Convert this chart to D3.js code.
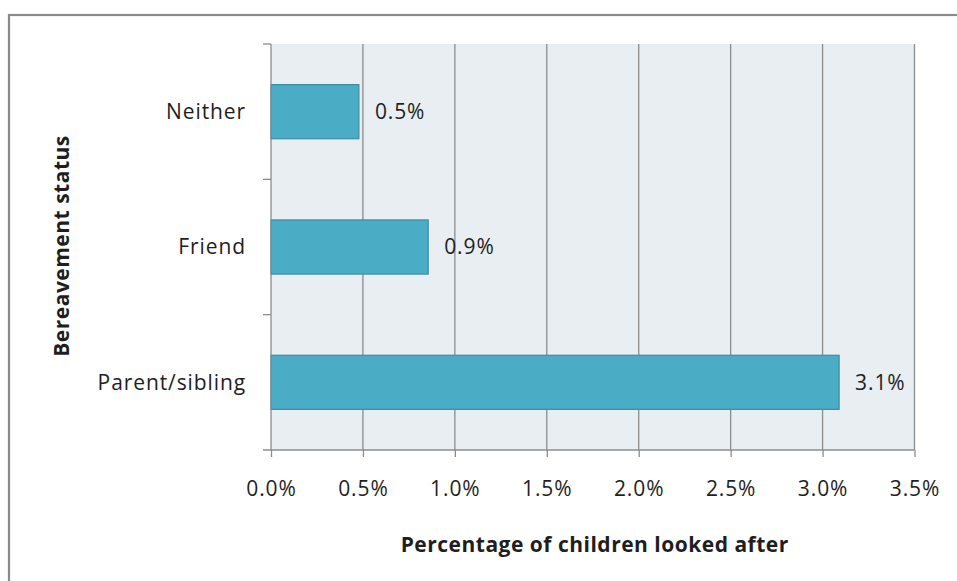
<!DOCTYPE html>
<html>
<head>
<meta charset="utf-8">
<script src="https://cdn.jsdelivr.net/npm/d3@7"></script>
<style>
  html, body { margin: 0; padding: 0; background: #fff; }
  svg { display: block; }
  text { font-family: "Open Sans", sans-serif; fill: #1e1e1e; }
</style>
</head>
<body>
<svg id="chart" width="957" height="581"></svg>
<script>
// Bereavement status categories, top to bottom
const categories = ["Neither", "Friend", "Parent/sibling"];
// Share of children looked after (fraction)
const values = [0.00478, 0.00855, 0.0309];
// Axis ticks
const xTicks = [0, 0.005, 0.01, 0.015, 0.02, 0.025, 0.03, 0.035];
const xTitle = "Percentage of children looked after";
const yTitle = "Bereavement status";

const svg = d3.select("#chart");
const plot = { left: 271, right: 914.5, top: 44, bottom: 450 };
const labelSize = 21, labelSpacing = 0.9;

// Outer frame
svg.append("rect")
  .attr("x", 9).attr("y", 15)
  .attr("width", 1000).attr("height", 700)
  .attr("fill", "#fff")
  .attr("stroke", "#8a8a8a").attr("stroke-width", 2.2);

const x = d3.scaleLinear().domain([0, 0.035]).range([plot.left, plot.right]);
const y = d3.scaleBand().domain(categories)
  .range([plot.top, plot.bottom])
  .paddingInner(0.6).paddingOuter(0.3);

// Plot background
svg.append("rect")
  .attr("x", plot.left).attr("y", plot.top)
  .attr("width", plot.right - plot.left).attr("height", plot.bottom - plot.top)
  .attr("fill", "#e8eef2");

// Vertical gridlines
svg.append("g").selectAll("line")
  .data(xTicks.slice(1))
  .join("line")
  .attr("x1", d => x(d)).attr("x2", d => x(d))
  .attr("y1", plot.top).attr("y2", plot.bottom)
  .attr("stroke", "#8c8c8c").attr("stroke-width", 1.3);

// Bars
svg.append("g").selectAll("rect")
  .data(categories)
  .join("rect")
  .attr("x", x(0))
  .attr("y", d => y(d))
  .attr("width", (d, i) => x(values[i]) - x(0))
  .attr("height", y.bandwidth())
  .attr("fill", "#4aacc5")
  .attr("stroke", "#3b8da3").attr("stroke-width", 1.2);

// Value labels
const fmt = d3.format(".1%");
svg.append("g").selectAll("text")
  .data(categories)
  .join("text")
  .attr("x", (d, i) => x(values[i]) + 16)
  .attr("y", d => y(d) + y.bandwidth() / 2)
  .attr("dy", "0.35em")
  .attr("font-size", labelSize)
  .attr("letter-spacing", labelSpacing)
  .text((d, i) => fmt(values[i]));

// X axis
const xAxis = d3.axisBottom(x).tickValues(xTicks).tickFormat(d3.format(".1%"))
  .tickSize(7).tickPadding(24);
const gx = svg.append("g").attr("transform", `translate(0,${plot.bottom})`).call(xAxis);
gx.select(".domain").remove();
gx.selectAll(".tick line").attr("stroke", "#8c8c8c").attr("stroke-width", 1.3);
gx.selectAll(".tick text")
  .attr("font-size", labelSize).attr("letter-spacing", labelSpacing)
  .attr("font-family", "Open Sans, sans-serif").attr("fill", "#1e1e1e");
gx.append("line")
  .attr("x1", plot.left - 8).attr("x2", plot.right)
  .attr("stroke", "#8c8c8c").attr("stroke-width", 1.3);

// Y axis
const boundaries = categories.map(c => y(c) - y.step() * y.paddingInner() / 2)
  .concat([plot.bottom]);
const gy = svg.append("g");
gy.append("line")
  .attr("x1", plot.left).attr("x2", plot.left)
  .attr("y1", plot.top).attr("y2", plot.bottom)
  .attr("stroke", "#8c8c8c").attr("stroke-width", 1.3);
gy.selectAll("line.tick")
  .data([plot.top].concat(boundaries.slice(1, 3)))
  .join("line").attr("class", "tick")
  .attr("x1", plot.left - 8).attr("x2", plot.left)
  .attr("y1", d => d).attr("y2", d => d)
  .attr("stroke", "#8c8c8c").attr("stroke-width", 1.3);
gy.selectAll("text")
  .data(categories)
  .join("text")
  .attr("x", plot.left - 25)
  .attr("y", d => y(d) + y.bandwidth() / 2)
  .attr("dy", "0.35em")
  .attr("text-anchor", "end")
  .attr("font-size", labelSize).attr("letter-spacing", labelSpacing)
  .text(d => d);

// Axis titles
svg.append("text")
  .attr("x", (plot.left + plot.right) / 2 + 2).attr("y", 552)
  .attr("text-anchor", "middle")
  .attr("font-size", 21).attr("font-weight", "bold").attr("letter-spacing", 0.5)
  .text(xTitle);

svg.append("text")
  .attr("transform", `translate(69,${(plot.top + plot.bottom) / 2 - 1}) rotate(-90)`)
  .attr("text-anchor", "middle")
  .attr("font-size", 21).attr("font-weight", "bold").attr("letter-spacing", 0.5)
  .text(yTitle);
</script>
</body>
</html>
